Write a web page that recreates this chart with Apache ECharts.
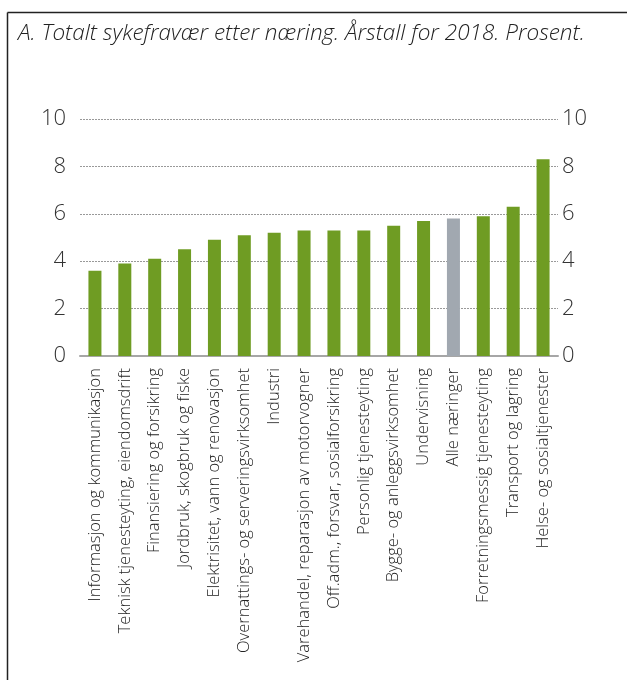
<!DOCTYPE html>
<html><head><meta charset="utf-8">
<script src="https://cdn.jsdelivr.net/npm/echarts@6/dist/echarts.min.js"></script>
<style>html,body{margin:0;padding:0;background:#fff}#c{width:627px;height:680px}</style>
</head><body><div id="c"></div>
<script>
const categories = [
  "Informasjon og kommunikasjon",
  "Teknisk tjenesteyting, eiendomsdrift",
  "Finansiering og forsikring",
  "Jordbruk, skogbruk og fiske",
  "Elektrisitet, vann og renovasjon",
  "Overnattings- og serveringsvirksomhet",
  "Industri",
  "Varehandel, reparasjon av motorvogner",
  "Off.adm., forsvar, sosialforsikring",
  "Personlig tjenesteyting",
  "Bygge- og anleggsvirksomhet",
  "Undervisning",
  "Alle næringer",
  "Forretningsmessig tjenesteyting",
  "Transport og lagring",
  "Helse- og sosialtjenester"
];
const values = [3.6, 3.9, 4.1, 4.5, 4.9, 5.1, 5.2, 5.3, 5.3, 5.3, 5.5, 5.7, 5.8, 5.9, 6.3, 8.3];
const highlight = "Alle næringer";
const yTicks = [0, 2, 4, 6, 8, 10];
const titleText = "A. Totalt sykefravær etter næring. Årstall for 2018. Prosent.";

const GREEN = "#6f9c23", GRAY = "#a1a8b0";
const chart = echarts.init(document.getElementById('c'), null, {renderer: 'canvas'});
const font = "'Open Sans', sans-serif";
chart.setOption({
  animation: false,
  backgroundColor: '#fff',
  title: {
    text: titleText, left: 13, top: 17,
    textStyle: {fontFamily: font, fontStyle: 'italic', fontWeight: 300, fontSize: 22.5, color: '#222'}
  },
  graphic: [
    {type: 'line', shape: {x1: 7.5, y1: 12.5, x2: 627, y2: 12.5}, style: {stroke: '#222', lineWidth: 1.5}},
    {type: 'line', shape: {x1: 7.5, y1: 12.5, x2: 7.5, y2: 680}, style: {stroke: '#222', lineWidth: 1.5}}
  ],
  grid: {left: 80, right: 69, top: 119, bottom: 324},
  xAxis: {
    type: 'category', data: categories,
    axisLine: {lineStyle: {color: '#a6a6a6', width: 2}},
    axisTick: {show: false},
    axisLabel: {rotate: 90, interval: 0, margin: 12, fontFamily: font, fontWeight: 300, fontSize: 16.5, color: '#222'}
  },
  yAxis: [
    {type: 'value', min: yTicks[0], max: yTicks[yTicks.length-1], interval: 2, position: 'left',
     axisLabel: {margin: 14, fontFamily: font, fontWeight: 300, fontSize: 22, color: '#333'},
     axisLine: {show: false}, axisTick: {show: false},
     splitLine: {lineStyle: {type: [2, 1], color: '#999', width: 1}}},
    {type: 'value', min: yTicks[0], max: yTicks[yTicks.length-1], interval: 2, position: 'right',
     axisLabel: {margin: 4, fontFamily: font, fontWeight: 300, fontSize: 22, color: '#333'},
     axisLine: {show: false}, axisTick: {show: false}, splitLine: {show: false}}
  ],
  series: [{
    type: 'bar', barWidth: 13,
    data: values.map((v, i) => ({value: v, itemStyle: {color: categories[i] === highlight ? GRAY : GREEN}}))
  }]
});
</script></body></html>
